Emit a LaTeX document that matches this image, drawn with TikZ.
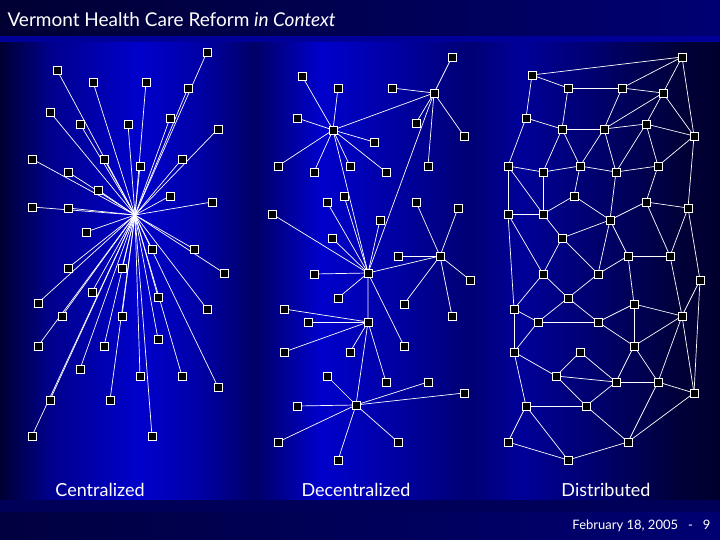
\documentclass[tikz,border=0pt]{standalone}
\usepackage{fontspec}
\setmainfont{Lato}
\begin{document}
\begin{tikzpicture}[x=1pt,y=-1pt,
  sq/.style={draw=white,fill=black,line width=0.8pt,minimum size=8pt,inner sep=0pt},
  ed/.style={draw=white,line width=0.7pt},
  lab/.style={text=white,font=\fontsize{18}{20}\selectfont}]
\useasboundingbox (0,0) rectangle (720,540);
\def\band#1#2#3#4{\shade[left color=#3, right color=#4] (#1,0) rectangle (#2,540);}
\band{0}{50}{blue!20!black}{blue!55!black}
\band{50}{140}{blue!55!black}{blue!80!black}
\band{140}{200}{blue!80!black}{blue!65!black}
\band{200}{255}{blue!65!black}{blue!40!black}
\band{255}{320}{blue!40!black}{blue!80!black}
\band{320}{390}{blue!80!black}{blue!65!black}
\band{390}{470}{blue!65!black}{blue!45!black}
\band{470}{520}{blue!45!black}{blue!60!black}
\band{520}{600}{blue!60!black}{blue!42!black}
\band{600}{680}{blue!42!black}{blue!22!black}
\band{680}{720}{blue!22!black}{blue!18!black}
\shade[left color=blue!20!black, right color=blue!45!black] (0,0) rectangle (720,36);
\fill[blue!60!black] (0,36) rectangle (720,42);
\fill[blue!35!black] (0,500) rectangle (720,512);
\shade[left color=blue!25!black, right color=blue!45!black] (0,512) rectangle (720,540);
\node[text=white,anchor=west,font=\fontsize{19}{21}\selectfont] (title) at (4,20) {Vermont Health Care Reform \textit{in Context}};
\node[text=white,anchor=east,font=\fontsize{13}{15}\selectfont] (foot) at (714,526) {February 18, 2005 \ \ - \ \ 9};
\node[lab] (l1) at (100,490) {Centralized};
\node[lab] (l2) at (356,490) {Decentralized};
\node[lab] (l3) at (606,490) {Distributed};
% centralized
\coordinate (H) at (135,215);
\foreach \i/\x/\y in {1/207/52,2/57/70,3/93/82,4/146/82,5/188/88,6/50/112,7/80/124,8/128/124,9/170/118,10/218/129,11/32/159,12/104/159,13/140/166,14/182/159,15/68/172,16/98/190,17/170/196,18/212/202,19/32/207,20/68/208,21/86/232,22/152/249,23/194/249,24/68/268,25/122/268,26/224/273,27/38/303,28/92/292,29/158/297,30/207/309,31/62/316,32/122/316,33/38/346,34/104/346,35/158/339,36/80/369,37/140/376,38/182/376,39/218/387,40/50/400,41/110/400,42/32/436,43/152/436}
  {\coordinate (c\i) at (\x,\y); \draw[ed] (H) -- (c\i);}
\foreach \i in {1,...,43} {\node[sq] at (c\i) {};}
% decentralized
\foreach \n/\x/\y in {A/333/130,B/434/93,C/368/273,D/440/256,E/368/322,F/356/405}
  {\coordinate (\n) at (\x,\y);}
\draw[ed] (A)--(B) (A)--(C) (B)--(C) (C)--(D) (C)--(E) (E)--(F);
\foreach \h/\lst in {
 A/{302/76,338/88,297/118,374/142,278/166,314/172,350/166,386/172},
 B/{452/57,392/88,416/123,464/136,428/166},
 C/{344/196,327/202,272/214,332/238,380/220,314/274,338/298,404/346},
 D/{416/202,458/208,398/256,470/280,404/304,452/316},
 E/{284/309,308/322,284/352,350/352,386/382},
 F/{327/376,428/382,464/393,297/406,278/442,398/442,338/460}}
 {\foreach \x/\y [count=\k] in \lst {\coordinate (d\h\k) at (\x,\y); \draw[ed] (\h) -- (d\h\k); \node[sq] at (d\h\k) {};}}
\foreach \n in {A,B,C,D,E,F} {\node[sq] at (\n) {};}
% distributed
\foreach \i/\x/\y in {1/682/57,2/532/75,3/568/88,4/622/88,5/663/93,6/526/118,7/562/129,8/604/129,9/646/124,10/694/136,11/508/166,12/543/172,13/580/166,14/616/172,15/658/166,16/574/196,17/646/202,18/688/208,19/508/214,20/543/214,21/610/220,22/562/238,23/628/256,24/670/256,25/543/274,26/598/274,27/700/280,28/568/298,29/634/304,30/514/309,31/538/322,32/598/322,33/682/316,34/634/346,35/514/352,36/580/352,37/556/376,38/616/382,39/658/382,40/694/393,41/526/406,42/586/406,43/508/442,44/628/442,45/568/460}
  {\coordinate (n\i) at (\x,\y);}
\foreach \a/\b in {2/1,2/3,2/6,3/4,4/5,5/1,4/1,1/10,3/7,6/11,6/7,7/8,8/9,8/4,8/5,9/5,5/10,9/10,7/12,7/13,8/13,8/14,9/14,9/15,11/12,12/13,13/14,14/15,15/10,13/16,15/17,11/19,11/20,12/20,16/20,16/21,14/21,21/17,17/18,18/10,19/20,20/22,22/21,21/23,21/26,17/24,18/24,23/24,19/25,19/30,22/25,22/26,23/26,18/27,24/33,23/29,25/28,25/30,26/28,28/31,28/32,30/31,31/32,29/32,29/33,29/34,27/33,27/40,32/34,33/34,30/35,31/35,35/37,35/41,36/37,36/38,37/38,37/42,34/38,34/39,38/39,33/39,39/40,38/42,41/42,41/43,41/45,43/45,45/44,42/44,44/40,39/44,33/40}
  {\draw[ed] (n\a) -- (n\b);}
\foreach \i in {1,...,45} {\node[sq] at (n\i) {};}
\end{tikzpicture}
\end{document}
